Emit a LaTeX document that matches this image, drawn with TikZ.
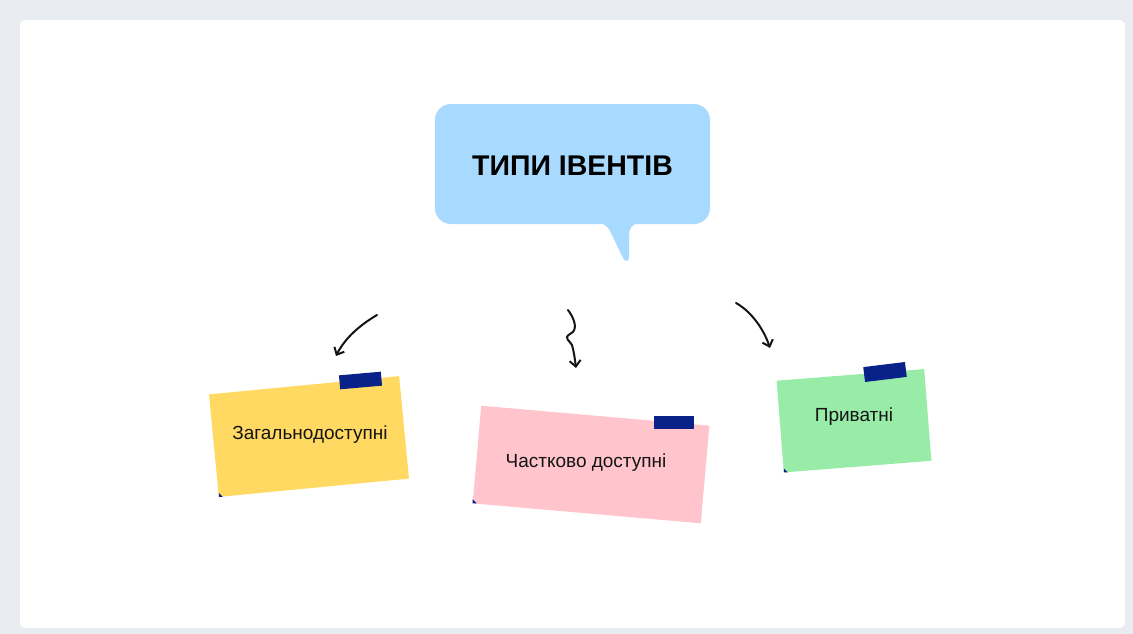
\documentclass[tikz,border=0pt]{standalone}
\usepackage{fontspec}
\setmainfont{Liberation Sans}
\definecolor{pagegray}{RGB}{233, 237, 241}
\definecolor{bubbleblue}{RGB}{168, 218, 255}
\definecolor{noteyellow}{RGB}{255, 217, 97}
\definecolor{notepink}{RGB}{255, 196, 204}
\definecolor{notegreen}{RGB}{152, 236, 168}
\definecolor{tapenavy}{RGB}{8, 34, 138}
\definecolor{inkblack}{RGB}{20, 20, 20}
\usetikzlibrary{arrows.meta, positioning, calc}

\begin{document}
\begin{tikzpicture}[x=1pt, y=-1pt,
    note/.style={minimum width=#1, inner sep=0pt, outer sep=0pt},
    notetext/.style={text=inkblack, font=\fontsize{19}{21}\selectfont, inner sep=0pt},
    tape/.style={fill=tapenavy, minimum width=42pt, minimum height=14pt, inner sep=0pt},
    hand/.style={draw=inkblack, line width=2pt, line cap=round,
                 -{Straight Barb[length=6pt, width=11pt, line width=2pt]}}]
  \useasboundingbox (0,0) rectangle (1133,634);
  \fill[pagegray] (0,0) rectangle (1133,634);
  \fill[white, rounded corners=6pt] (20,20) rectangle (1125,628);

  % speech bubble
  \fill[bubbleblue] (596,222) .. controls (604,223) and (607,226) .. (610,231)
    -- (623,258) .. controls (625,262) and (629,262) .. (629,257)
    -- (629,236) .. controls (629,228) and (632,224) .. (640,222) -- cycle;
  \node[fill=bubbleblue, rounded corners=16pt, minimum width=275pt, minimum height=120pt] (title) at (572.5,164) {};
  \node[font=\fontsize{28.5}{30}\selectfont\bfseries, text=black, inner sep=0pt] (titletxt) at (572.5,166) {ТИПИ ІВЕНТІВ};

  % notes
  \node[note=191pt, minimum height=103pt, fill=noteyellow, rotate=5.5] (pub) at (309,436.5) {};
  \node[tape, rotate=5] (pubtape) at (360.5,380.5) {};
  \node[notetext] (pubtxt) at (310,435) {Загальнодоступні};

  \node[note=229pt, minimum height=98pt, fill=notepink, rotate=-5] (part) at (591,464.5) {};
  \node[tape, minimum width=40pt, minimum height=13pt] (parttape) at (674,422.5) {};
  \node[notetext] (parttxt) at (586,463) {Частково доступні};

  \node[note=148pt, minimum height=92pt, fill=notegreen, rotate=4.5] (priv) at (854,420.75) {};
  \node[tape, minimum height=15pt, rotate=7] (privtape) at (885,372) {};
  \node[notetext] (privtxt) at (854,417) {Приватні};

  \foreach \n in {pub, part, priv}
    \fill[tapenavy] (\n.south west) -- ($(\n.south west)+(0,-4)$) -- ($(\n.south west)+(4,0)$) -- cycle;

  % arrows
  \coordinate (leftfrom) at (377,315);
  \coordinate (leftto) at (336,356);
  \coordinate (midfrom) at (568,310);
  \coordinate (midto) at (576,368);
  \coordinate (rightfrom) at (736,303);
  \coordinate (rightto) at (770,348);

  \draw[hand] (leftfrom) .. controls (360,325) and (345,338) .. (leftto);
  \draw[hand] (midfrom) .. controls (574,318) and (579,330) .. (570,334)
    .. controls (563,338) and (570,341) .. (572,345) .. controls (574,352) and (575,360) .. (midto);
  \draw[hand] (rightfrom) .. controls (752,312) and (764,330) .. (rightto);
\end{tikzpicture}
\end{document}
